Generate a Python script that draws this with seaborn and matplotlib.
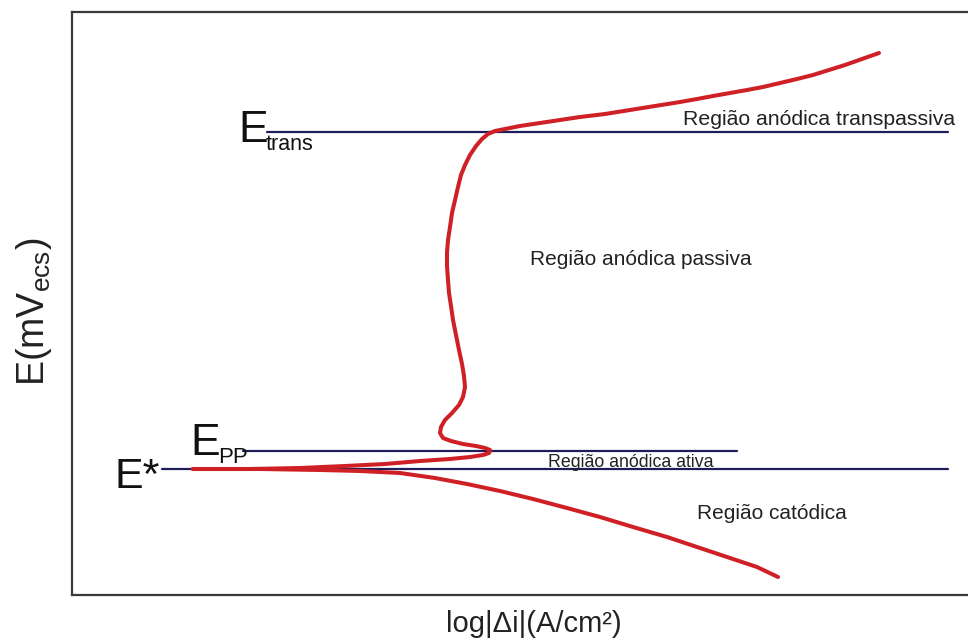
import matplotlib
matplotlib.use("Agg")
import matplotlib.pyplot as plt
import seaborn as sns
import pandas as pd

# ---- data (in picture units: x = log|Δi|, y = E, y grows downward) ----
curve_x = [879, 862, 845, 829, 813, 797, 780, 763, 747, 730, 713, 697, 680, 655,
           630, 605, 580, 560, 540, 520, 505, 495, 488,
           482, 476, 470, 465, 461, 458, 455, 452, 450, 448, 447, 447, 448, 449,
           451, 453, 456, 459, 462, 464, 465, 463, 459, 452, 445, 441, 440, 443,
           451, 463, 476, 485, 490, 489, 483, 470, 450, 420, 385, 345, 300, 250, 193,
           260, 320, 360, 400, 435, 467, 500, 533, 567, 600, 633, 667, 700, 733,
           757, 778]
curve_y = [53, 59, 65, 70, 75, 79, 83, 87, 90, 93, 96, 99, 102, 106,
           110, 114, 117, 120, 123, 126, 129, 131, 134,
           139, 146, 155, 165, 175, 187, 200, 213, 227, 240, 253, 266, 280, 293,
           306, 320, 335, 350, 364, 376, 387, 397, 405, 413, 420, 427, 433, 438,
           441, 444, 446, 448, 450, 453, 455, 457, 459, 461, 464, 466, 468, 469, 469,
           469, 470, 471, 473, 478, 484, 491, 499, 508, 517, 527, 537, 548, 559,
           567, 577]

level_names = ["E_trans", "E_PP", "E*"]
level_y = [132, 451, 469]
level_x0 = [267, 243, 162]
level_x1 = [948, 737, 948]

region_labels = ["Região anódica transpassiva", "Região anódica passiva",
                 "Região anódica ativa", "Região catódica"]
region_x = [683, 530, 548, 697]
region_y = [125, 265, 467, 519]
region_size = [15.3, 15, 12.8, 15]

xlabel = "log|Δi|(A/cm²)"
ylabel = "E(mV$_{ecs}$)"

# ---- styling ----
sns.set_theme(style="white")
plt.rcParams["font.family"] = ["Liberation Sans", "DejaVu Sans"]
plt.rcParams["mathtext.fontset"] = "custom"
plt.rcParams["mathtext.rm"] = "Liberation Sans"
plt.rcParams["mathtext.it"] = "Liberation Sans"
plt.rcParams["mathtext.default"] = "regular"

fig = plt.figure(figsize=(9.68, 6.41), dpi=100)
ax = fig.add_axes([72 / 968, (641 - 595) / 641, (968 - 72) / 968 + 0.01, (595 - 12) / 641])

navy = "#1d1d5a"
red = "#cf2026"

for name, y, x0, x1 in zip(level_names, level_y, level_x0, level_x1):
    df = pd.DataFrame({"x": [x0, x1], "y": [y, y]})
    sns.lineplot(data=df, x="x", y="y", ax=ax, color=navy, linewidth=1.6,
                 sort=False, estimator=None)

curve = pd.DataFrame({"x": curve_x, "y": curve_y})
sns.lineplot(data=curve, x="x", y="y", ax=ax, color=red, linewidth=2.9,
             sort=False, estimator=None, zorder=3)
ax.lines[-1].set_solid_joinstyle("round")
ax.lines[-1].set_solid_capstyle("round")

ax.set_xlim(72, 968 + 0.01 * 968)
ax.set_ylim(595, 12)
ax.set_xticks([])
ax.set_yticks([])

for side in ["left", "top", "bottom"]:
    ax.spines[side].set_color("#3a3a3a")
    ax.spines[side].set_linewidth(1.6)
ax.spines["right"].set_visible(False)

# level labels
ax.text(238, 142, "E", fontsize=32, ha="left", va="baseline", color="#111111")
ax.text(266, 150, "trans", fontsize=15.5, ha="left", va="baseline", color="#111111")
ax.text(190, 455, "E", fontsize=32, ha="left", va="baseline", color="#111111")
ax.text(218, 463, "PP", fontsize=16, ha="left", va="baseline", color="#111111")
ax.text(114, 488, "E*", fontsize=31, ha="left", va="baseline", color="#111111")

for lab, x, y, s in zip(region_labels, region_x, region_y, region_size):
    ax.text(x, y, lab, fontsize=s, ha="left", va="baseline", color="#222222")

ax.set_xlabel(xlabel, fontsize=21, color="#222222")
ax.xaxis.set_label_coords((529 - 72) / 896, (595 - 610) / 583)
ax.set_ylabel(ylabel, fontsize=27, color="#222222")
ax.yaxis.set_label_coords((54 - 72) / 896, (595 - 312) / 583)

fig.savefig("out.png", dpi=100)
